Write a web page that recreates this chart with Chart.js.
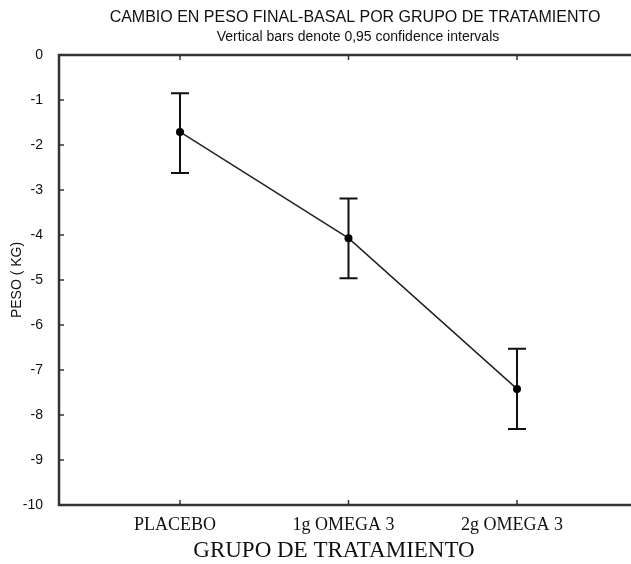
<!DOCTYPE html>
<html>
<head>
<meta charset="utf-8">
<script src="https://cdn.jsdelivr.net/npm/chart.js@4.4.1/dist/chart.umd.min.js"></script>
<style>
  html, body { margin: 0; padding: 0; background: #fff; overflow: hidden; }
  #wrap { width: 631px; height: 564px; overflow: hidden; }
  canvas { display: block; }
</style>
</head>
<body>
<div id="wrap"><canvas id="c" width="660" height="564"></canvas></div>
<script>
// ---- data ---------------------------------------------------------------
const groups = ["PLACEBO", "1g OMEGA 3", "2g OMEGA 3"];
const means = [-1.71, -4.07, -7.42];
const upper = [-0.85, -3.19, -6.53];
const lower = [-2.62, -4.96, -8.31];
const yTicks = [0, -1, -2, -3, -4, -5, -6, -7, -8, -9, -10];

const titleText = "CAMBIO EN PESO FINAL-BASAL POR GRUPO DE TRATAMIENTO";
const subtitleText = "Vertical bars denote 0,95 confidence intervals";
const xTitle = "GRUPO DE TRATAMIENTO";
const yTitle = "PESO ( KG)";

const SANS = '"Liberation Sans", Arial, sans-serif';
const SERIF = '"Liberation Serif", "Times New Roman", serif';
const INK = "#111";

// ---- custom drawing: frame, inward ticks, error bars, titles -------------
const decor = {
  id: "decor",
  beforeDatasetsDraw(chart) {
    const { ctx, scales: { x, y } } = chart;
    ctx.save();
    ctx.strokeStyle = "#111";
    ctx.lineWidth = 2;
    const cap = 9;
    groups.forEach((g, i) => {
      const px = x.getPixelForValue(i + 1);
      const yt = y.getPixelForValue(upper[i]);
      const yb = y.getPixelForValue(lower[i]);
      ctx.beginPath();
      ctx.moveTo(px, yt); ctx.lineTo(px, yb);
      ctx.moveTo(px - cap, yt); ctx.lineTo(px + cap, yt);
      ctx.moveTo(px - cap, yb); ctx.lineTo(px + cap, yb);
      ctx.stroke();
    });
    ctx.restore();
  },
  afterDraw(chart) {
    const { ctx, chartArea: a, scales: { x, y } } = chart;
    ctx.save();
    // frame
    ctx.strokeStyle = "#333";
    ctx.lineWidth = 2.5;
    ctx.strokeRect(a.left, a.top, a.right - a.left, a.bottom - a.top);
    // inward ticks
    ctx.lineWidth = 1.5;
    ctx.beginPath();
    y.ticks.forEach((t) => {
      const py = y.getPixelForValue(t.value);
      ctx.moveTo(a.left, py); ctx.lineTo(a.left + 5, py);
      ctx.moveTo(a.right, py); ctx.lineTo(a.right - 5, py);
    });
    x.ticks.forEach((t) => {
      const px = x.getPixelForValue(t.value);
      ctx.moveTo(px, a.bottom); ctx.lineTo(px, a.bottom - 5);
      ctx.moveTo(px, a.top); ctx.lineTo(px, a.top + 5);
    });
    ctx.stroke();
    // titles
    ctx.fillStyle = INK;
    ctx.textAlign = "center";
    ctx.textBaseline = "middle";
    ctx.font = "16px " + SANS;
    ctx.fillText(titleText, 355, 18);
    ctx.font = "14px " + SANS;
    ctx.fillText(subtitleText, 358, 37);
    ctx.font = "23px " + SERIF;
    ctx.fillText(xTitle, 334, 551);
    ctx.restore();
  },
};

new Chart(document.getElementById("c"), {
  type: "line",
  data: {
    datasets: [{
      data: means.map((m, i) => ({ x: i + 1, y: m })),
      borderColor: "#222",
      borderWidth: 1.5,
      pointRadius: 4,
      pointBackgroundColor: "#000",
      pointBorderColor: "#000",
      pointBorderWidth: 0,
      tension: 0,
    }],
  },
  options: {
    responsive: false,
    animation: false,
    layout: { padding: { top: 55, right: 22, left: 0, bottom: 0 } },
    plugins: { legend: { display: false }, tooltip: { enabled: false } },
    scales: {
      x: {
        type: "linear",
        min: 0.282,
        max: 3.718,
        grid: { display: false },
        border: { display: false },
        afterBuildTicks: (s) => { s.ticks = groups.map((g, i) => ({ value: i + 1 })); },
        afterFit: (s) => { s.height = 59; },
        ticks: {
          autoSkip: false,
          maxRotation: 0,
          padding: 1,
          labelOffset: -5,
          color: INK,
          font: { family: SERIF, size: 18 },
          callback: (v) => groups[v - 1],
        },
      },
      y: {
        min: -10,
        max: 0,
        grid: { display: false },
        border: { display: false },
        afterBuildTicks: (s) => { s.ticks = yTicks.map((v) => ({ value: v })); },
        afterFit: (s) => { s.width = 59; },
        ticks: {
          padding: 8,
          color: INK,
          font: { family: SANS, size: 14 },
        },
        title: {
          display: true,
          text: yTitle,
          color: INK,
          font: { family: SANS, size: 14 },
          padding: { top: 9, bottom: 0 },
        },
      },
    },
  },
  plugins: [decor],
});
</script>
</body>
</html>
